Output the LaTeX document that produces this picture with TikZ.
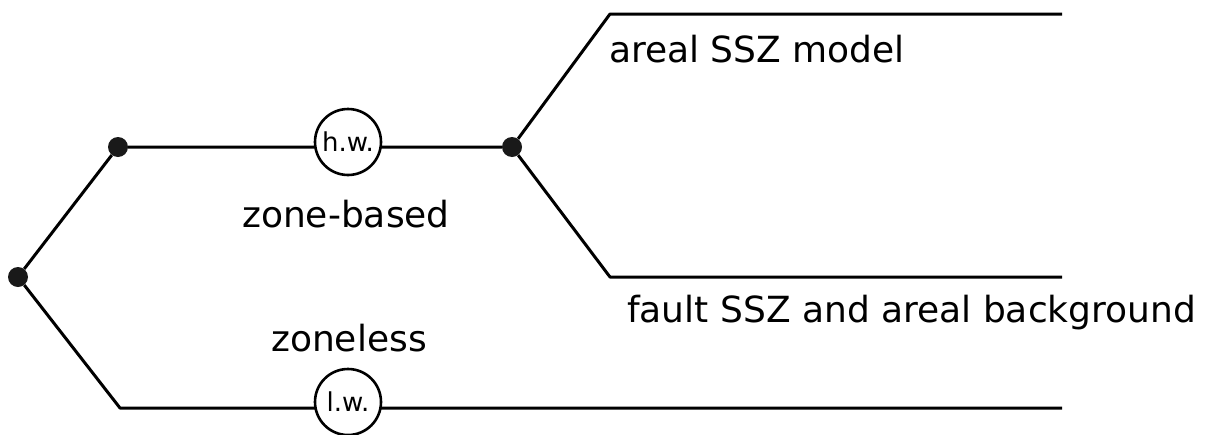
\documentclass[tikz,border=0pt]{standalone}
\usepackage{fontspec}
\setmainfont{DejaVu Sans}
\begin{document}
\begin{tikzpicture}[x=1pt,y=-1pt,
  branch/.style={line width=3pt,line join=round},
  junction/.style={circle,fill=black!90,inner sep=0pt,minimum size=20pt},
  weight/.style={circle,draw,line width=2.6pt,fill=white,inner sep=0pt,minimum size=66pt,
    font=\fontsize{26}{28}\selectfont},
  label/.style={anchor=base west,inner sep=0pt,font=\fontsize{36}{40}\selectfont}]
\useasboundingbox (0,0) rectangle (1222,434);
% junctions
\node[junction] (root) at (18,277) {};
\node[junction] (zb) at (118,147) {};
\node[junction] (split) at (512,147) {};
% bends and free ends
\coordinate (upbend) at (610,14);
\coordinate (upend) at (1062,14);
\coordinate (lowbend) at (610,277);
\coordinate (lowend) at (1062,277);
\coordinate (zlbend) at (120,408);
\coordinate (zlend) at (1062,408);
% tree
\draw[branch] (root) -- (zb) -- (split);
\draw[branch] (split) -- (upbend) -- (upend);
\draw[branch] (split) -- (lowbend) -- (lowend);
\draw[branch] (root) -- (zlbend) -- (zlend);
% weight circles
\node[weight] (hw) at (348,142) {h.w.};
\node[weight] (lw) at (348,402) {l.w.};
% texts
\node[label] (areal) at (609,62) {areal SSZ model};
\node[label] (zonebased) at (242,227) {zone-based};
\node[label] (fault) at (627,322) {fault SSZ and areal background};
\node[label] (zoneless) at (271,351) {zoneless};
\end{tikzpicture}
\end{document}
